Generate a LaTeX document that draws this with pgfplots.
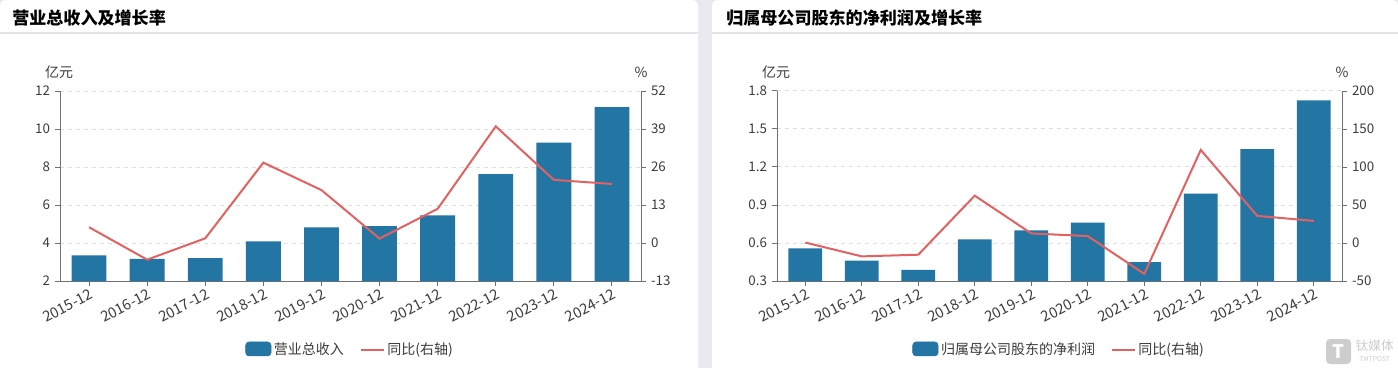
\documentclass[border=0pt]{standalone}
\usepackage{pgfplots}
\pgfplotsset{compat=1.18}
\usepackage{fontspec}
\setmainfont{Noto Sans CJK SC}
\definecolor{barblue}{RGB}{35,118,163}
\definecolor{linered}{RGB}{228,97,97}
\definecolor{bggray}{RGB}{233,234,238}
\definecolor{axgray}{RGB}{110,112,121}
\definecolor{txtgray}{RGB}{60,60,60}
\definecolor{gridgray}{RGB}{222,222,222}
\definecolor{sepgray}{RGB}{228,228,230}
\definecolor{wmgray}{RGB}{205,205,205}

\pgfplotsset{
  common/.style={
    scale only axis, xmin=-0.5, xmax=9.5, height=142.5pt,
    anchor=south west,
    /pgf/number format/assume math mode=true,
    tick label style={font=\fontsize{10}{12}\selectfont, text=txtgray},
    axis line style={axgray, line width=0.75pt, -},
    tick style={axgray, line width=0.75pt},
    major tick length=4pt,
    tick align=outside,
  },
  leftax/.style={common,
    axis y line*=left, axis x line*=bottom,
    xtick={0,...,9},
    xticklabels={2015-12,2016-12,2017-12,2018-12,2019-12,2020-12,2021-12,2022-12,2023-12,2024-12},
    xticklabel style={rotate=27, anchor=north east, inner sep=0.5pt, yshift=-1pt,
      font=\fontsize{11}{12}\selectfont},
    ymajorgrids, grid style={dashed, gridgray, line width=0.75pt},
    ybar, bar width=0.6,
  },
  rightax/.style={common,
    axis y line*=right, axis x line=none,
    legend style={at={(0.5,-0.363)}, anchor=center, legend columns=-1, draw=none, fill=none,
      font=\fontsize{10.5}{12}\selectfont, text=txtgray,
      /tikz/every even column/.append style={column sep=10pt}},
  },
  barlegend/.style={legend image code/.code={\fill[barblue, rounded corners=2.5pt] (-2pt,-4.5pt) rectangle (17pt,6pt);}},
}

\begin{document}
\begin{tikzpicture}
\useasboundingbox (0,0) rectangle (1048.5pt,276pt);
\fill[bggray] (0,0) rectangle (1048.5pt,276pt);
\fill[white, rounded corners=4pt] (0,-10pt) rectangle (523.5pt,276pt);
\fill[white, rounded corners=4pt] (534pt,-10pt) rectangle (1048.5pt,276pt);
\draw[sepgray, line width=0.9pt] (0,251.25pt) -- (523.5pt,251.25pt);
\draw[sepgray, line width=0.9pt] (534pt,251.25pt) -- (1048.5pt,251.25pt);
\node[anchor=west, inner sep=0pt, font=\fontsize{12.8}{14}\selectfont\bfseries] at (9pt,262.5pt) {营业总收入及增长率};
\node[anchor=west, inner sep=0pt, font=\fontsize{12.8}{14}\selectfont\bfseries] at (544.5pt,262.5pt) {归属母公司股东的净利润及增长率};
% unit labels
\node[font=\fontsize{10.5}{12}\selectfont, text=txtgray] at (44.25pt,222pt) {亿元};
\node[font=\fontsize{10.5}{12}\selectfont, text=txtgray] at (480.75pt,222pt) {\%};
\node[font=\fontsize{10.5}{12}\selectfont, text=txtgray] at (582pt,222pt) {亿元};
\node[font=\fontsize{10.5}{12}\selectfont, text=txtgray] at (1006.5pt,222pt) {\%};

% ---------- left panel ----------
\begin{axis}[leftax, at={(45pt,65.25pt)}, width=435.75pt,
  ymin=2, ymax=12, ytick={2,4,...,12}]
\addplot[fill=barblue, draw=none] coordinates {
 (0,3.35) (1,3.16) (2,3.21) (3,4.08) (4,4.82) (5,4.89) (6,5.46) (7,7.63) (8,9.28) (9,11.15)};
\end{axis}
\begin{axis}[rightax, at={(45pt,65.25pt)}, width=435.75pt,
  ymin=-13, ymax=52, ytick={-13,0,13,26,39,52}]
\addlegendimage{barlegend}
\addlegendentry{营业总收入}
\addplot[linered, line width=1.5pt, mark=none] coordinates {
 (0,5.4) (1,-5.7) (2,1.6) (3,27.5) (4,18.1) (5,1.5) (6,11.7) (7,39.9) (8,21.6) (9,20.2)};
\addlegendentry{同比(右轴)}
\end{axis}

% ---------- right panel ----------
\begin{axis}[leftax, at={(582.75pt,65.25pt)}, width=423.75pt,
  ymin=0.3, ymax=1.8, ytick={0.3,0.6,0.9,1.2,1.5,1.8},
  yticklabel style={/pgf/number format/.cd, fixed, fixed zerofill, precision=1}]
\addplot[fill=barblue, draw=none] coordinates {
 (0,0.558) (1,0.46) (2,0.388) (3,0.628) (4,0.70) (5,0.761) (6,0.449) (7,0.99) (8,1.342) (9,1.725)};
\end{axis}
\begin{axis}[rightax, at={(582.75pt,65.25pt)}, width=423.75pt,
  ymin=-50, ymax=200, ytick={-50,0,50,100,150,200}]
\addlegendimage{barlegend}
\addlegendentry{归属母公司股东的净利润}
\addplot[linered, line width=1.5pt, mark=none] coordinates {
 (0,0.6) (1,-17.6) (2,-15.4) (3,62.3) (4,12.6) (5,9.1) (6,-40.7) (7,122.4) (8,35.7) (9,29.1)};
\addlegendentry{同比(右轴)}
\end{axis}

% watermark
\fill[wmgray, rounded corners=3pt] (994.5pt,3pt) rectangle (1013.25pt,21.75pt);
\node[text=white, font=\fontsize{14}{14}\selectfont\bfseries, inner sep=0pt] at (1003.9pt,12.4pt) {T};
\node[text=wmgray, font=\fontsize{9.5}{11}\selectfont, inner sep=0pt] at (1031pt,16.5pt) {钛媒体};
\node[text=wmgray, font=\fontsize{5}{6}\selectfont, inner sep=0pt] at (1031pt,6.5pt) {TMTPOST};
\end{tikzpicture}
\end{document}
